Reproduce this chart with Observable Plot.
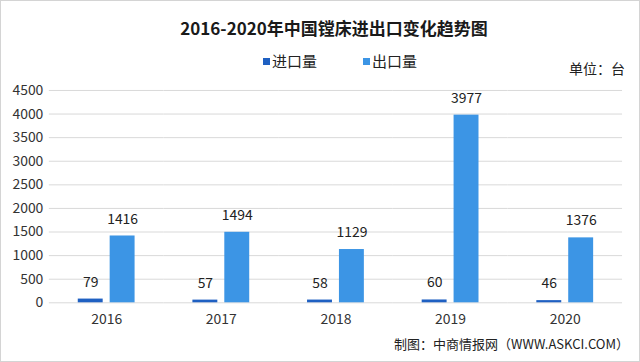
<!DOCTYPE html>
<html><head><meta charset="utf-8">
<script src="https://cdn.jsdelivr.net/npm/d3@7"></script>
<script src="https://cdn.jsdelivr.net/npm/@observablehq/plot@0.6"></script>
<style>
html,body{margin:0;padding:0;background:#fff;}
#chart{position:relative;width:640px;height:362px;box-sizing:border-box;border:1px solid #d4d4d4;font-family:"Noto Sans CJK SC","Noto Sans",sans-serif;color:#222;}
#title{position:absolute;left:0;top:15px;width:666px;text-align:center;font-size:17px;font-weight:bold;line-height:24px;color:#1a1a1a;}
#legend{position:absolute;left:262px;top:50px;font-size:15px;line-height:20px;color:#222;white-space:nowrap;}
#legend span.item{display:inline-block;margin-right:46px;}
#legend i{display:inline-block;width:7px;height:7px;margin-right:2px;vertical-align:2px;}
#unit{position:absolute;left:560px;top:59px;width:64px;text-align:right;font-size:14px;line-height:16px;color:#222;white-space:nowrap;}
#plot{position:absolute;left:0;top:78px;}
#footer{position:absolute;right:10px;top:334px;font-size:13px;line-height:18px;color:#222;white-space:nowrap;}
</style></head>
<body>
<div id="chart">
  <div id="title">2016-2020年中国镗床进出口变化趋势图</div>
  <div id="legend"></div>
  <div id="unit">单位：台</div>
  <div id="plot"></div>
  <div id="footer">制图：中商情报网（WWW.ASKCI.COM）</div>
</div>
<script>
const years = ["2016", "2017", "2018", "2019", "2020"];
const series = ["进口量", "出口量"];
const importValues = [79, 57, 58, 60, 46];
const exportValues = [1416, 1494, 1129, 3977, 1376];
const seriesColors = ["#1F60C2", "#3C95E5"];
const yTicks = [0, 500, 1000, 1500, 2000, 2500, 3000, 3500, 4000, 4500];

const rows = years.flatMap((yr, i) => [
  {year: yr, type: series[0], value: importValues[i]},
  {year: yr, type: series[1], value: exportValues[i]}
]);

const legend = document.getElementById("legend");
series.forEach((s, i) => {
  const span = document.createElement("span");
  span.className = "item";
  const sw = document.createElement("i");
  sw.style.background = seriesColors[i];
  span.appendChild(sw);
  span.appendChild(document.createTextNode(s));
  legend.appendChild(span);
});

const chart = Plot.plot({
  width: 640,
  height: 254,
  marginLeft: 46,
  marginRight: 15,
  marginTop: 11,
  marginBottom: 30,
  style: {fontFamily: "'Noto Sans CJK SC','Noto Sans',sans-serif", fontSize: "14px", color: "#333", background: "transparent"},
  facet: {data: rows, x: "year"},
  fx: {domain: years, padding: 0, label: null, tickSize: 0, tickPadding: 11, axis: "bottom"},
  x: {domain: series, axis: null, paddingInner: 0.212, paddingOuter: 0.858},
  y: {domain: [0, 4500], ticks: yTicks, label: null, tickSize: 0, tickPadding: 6, tickFormat: d => String(d)},
  color: {domain: series, range: seriesColors},
  marks: [
    Plot.ruleY(yTicks, {stroke: "#d9d9d9", strokeWidth: 1, facet: false}),
    Plot.barY(rows, {x: "type", y: "value", fill: "type"}),
    Plot.text(rows, {x: "type", y: "value", text: d => String(d.value), dy: -17, fill: "#222", fontSize: 14})
  ]
});
document.getElementById("plot").appendChild(chart);
</script>
</body></html>
